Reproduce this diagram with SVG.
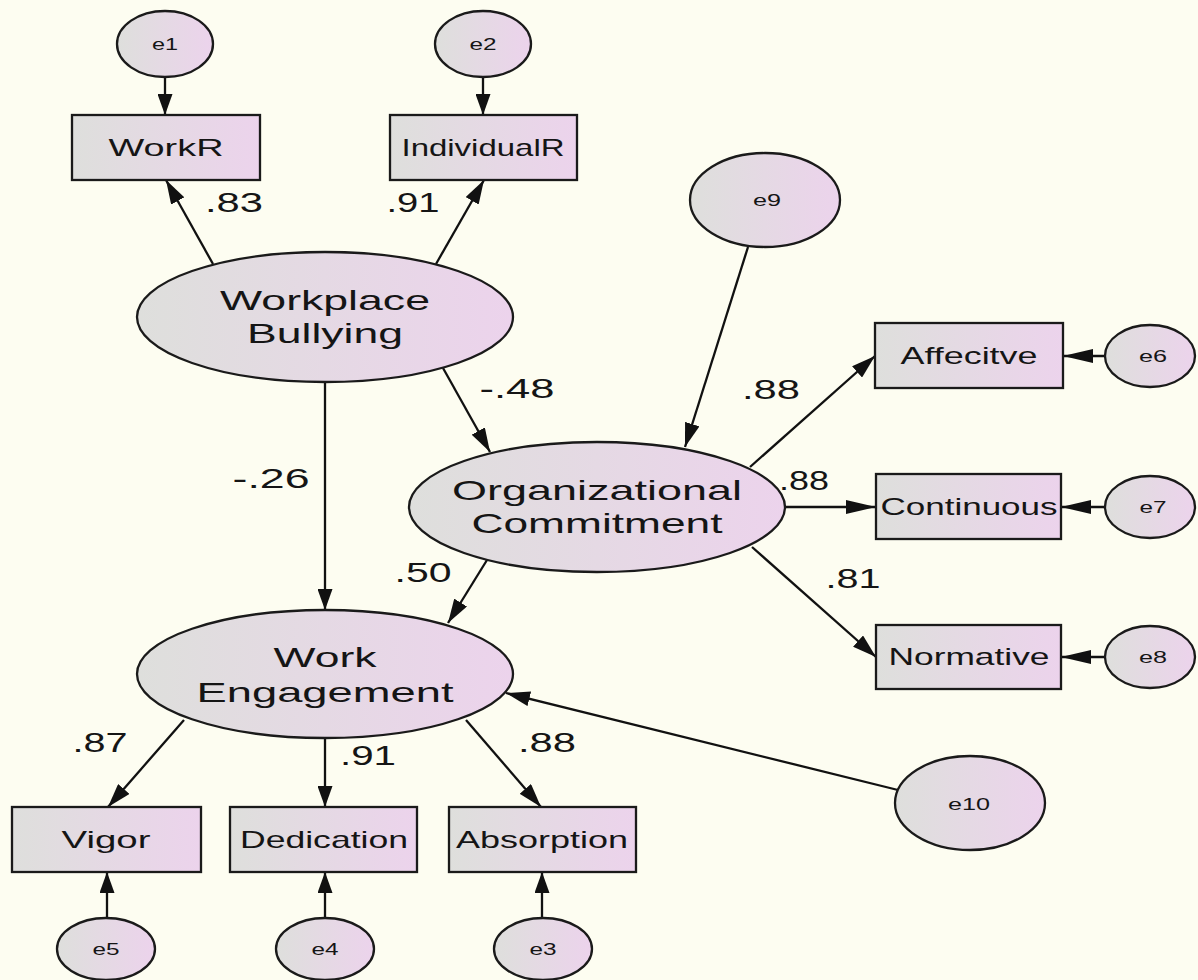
<svg xmlns="http://www.w3.org/2000/svg" width="1198" height="980" viewBox="0 0 1198 980">
<defs>
<linearGradient id="fillg" x1="0" y1="0" x2="1" y2="0">
<stop offset="0" stop-color="#dedfdc"/>
<stop offset="1" stop-color="#ecd3ec"/>
</linearGradient>
<marker id="av" viewBox="0 0 21 15" refX="21" refY="7.5" markerWidth="21" markerHeight="15" markerUnits="userSpaceOnUse" orient="auto">
<path d="M0,0 L21,7.5 L0,15 Z" fill="#111"/>
</marker>
<marker id="ad" viewBox="0 0 24 15" refX="24" refY="7.5" markerWidth="24" markerHeight="15" markerUnits="userSpaceOnUse" orient="auto">
<path d="M0,0 L24,7.5 L0,15 Z" fill="#111"/>
</marker>
<marker id="ah" viewBox="0 0 30 14" refX="30" refY="7" markerWidth="30" markerHeight="14" markerUnits="userSpaceOnUse" orient="auto">
<path d="M0,0 L30,7 L0,14 Z" fill="#111"/>
</marker>
</defs>
<style>
.nd{fill:url(#fillg);stroke:#1a1a1a;stroke-width:2.3}
.t{font-family:"Liberation Sans",Arial,sans-serif;fill:#151515;text-anchor:middle}
.big{font-size:28px}
.box{font-size:24px}
.coef{font-size:28px}
.err{font-size:16px}
.c line{stroke:#111;stroke-width:2.3;fill:none}
.v{marker-end:url(#av)}
.d{marker-end:url(#ad)}
.h{marker-end:url(#ah)}
</style>
<rect x="0" y="0" width="1198" height="980" fill="#fdfdf1"/>

<g id="connectors" class="c">
<line class="v" x1="165" y1="77" x2="165" y2="115"/>
<line class="v" x1="483" y1="77" x2="483" y2="115"/>
<line class="d" x1="213" y1="264" x2="166" y2="180"/>
<line class="d" x1="436" y1="264" x2="484" y2="180"/>
<line class="d" x1="443" y1="368" x2="490" y2="452"/>
<line class="v" x1="325" y1="382" x2="325" y2="610"/>
<line class="d" x1="748" y1="247" x2="685" y2="447"/>
<line class="d" x1="750" y1="467" x2="875" y2="356"/>
<line class="h" x1="785" y1="507" x2="876" y2="507"/>
<line class="d" x1="752" y1="547" x2="876" y2="657"/>
<line class="h" x1="1105" y1="356" x2="1063" y2="356"/>
<line class="h" x1="1105" y1="507" x2="1061" y2="507"/>
<line class="h" x1="1105" y1="657" x2="1061" y2="657"/>
<line class="d" x1="487" y1="560" x2="448" y2="623"/>
<line class="d" x1="898" y1="790" x2="506" y2="693"/>
<line class="d" x1="184" y1="720" x2="108" y2="807"/>
<line class="v" x1="325" y1="738" x2="325" y2="807"/>
<line class="d" x1="466" y1="720" x2="541" y2="807"/>
<line class="v" x1="107" y1="918" x2="107" y2="872"/>
<line class="v" x1="325" y1="918" x2="325" y2="872"/>
<line class="v" x1="542" y1="918" x2="542" y2="872"/>
</g>

<g id="labels">
<text class="t coef" x="234" y="212" textLength="58" lengthAdjust="spacingAndGlyphs">.83</text>
<text class="t coef" x="413" y="212" textLength="53" lengthAdjust="spacingAndGlyphs">.91</text>
<text class="t coef" x="517" y="398" textLength="75" lengthAdjust="spacingAndGlyphs">-.48</text>
<text class="t coef" x="271" y="488" textLength="77" lengthAdjust="spacingAndGlyphs">-.26</text>
<text class="t coef" x="771" y="399" textLength="58" lengthAdjust="spacingAndGlyphs">.88</text>
<text class="t coef" x="804" y="490" textLength="50" lengthAdjust="spacingAndGlyphs">.88</text>
<text class="t coef" x="853" y="588" textLength="55" lengthAdjust="spacingAndGlyphs">.81</text>
<text class="t coef" x="423" y="582" textLength="57" lengthAdjust="spacingAndGlyphs">.50</text>
<text class="t coef" x="100" y="752" textLength="55" lengthAdjust="spacingAndGlyphs">.87</text>
<text class="t coef" x="368" y="765" textLength="56" lengthAdjust="spacingAndGlyphs">.91</text>
<text class="t coef" x="547" y="752" textLength="58" lengthAdjust="spacingAndGlyphs">.88</text>
</g>

<g id="e1"><ellipse class="nd" cx="165" cy="44" rx="48" ry="33"/><text class="t err" x="165" y="50" textLength="26" lengthAdjust="spacingAndGlyphs">e1</text></g>
<g id="e2"><ellipse class="nd" cx="483" cy="44" rx="48" ry="33"/><text class="t err" x="483" y="50" textLength="27" lengthAdjust="spacingAndGlyphs">e2</text></g>
<g id="WorkR"><rect class="nd" x="72" y="115" width="188" height="65"/><text class="t box" x="166" y="156" textLength="115" lengthAdjust="spacingAndGlyphs">WorkR</text></g>
<g id="IndividualR"><rect class="nd" x="390" y="115" width="187" height="65"/><text class="t box" x="483" y="156" textLength="163" lengthAdjust="spacingAndGlyphs">IndividualR</text></g>
<g id="WorkplaceBullying"><ellipse class="nd" cx="325" cy="317" rx="188" ry="65"/><text class="t big" x="325" y="310" textLength="210" lengthAdjust="spacingAndGlyphs">Workplace</text><text class="t big" x="325" y="343" textLength="156" lengthAdjust="spacingAndGlyphs">Bullying</text></g>
<g id="e9"><ellipse class="nd" cx="765" cy="200" rx="75" ry="47"/><text class="t err" x="767" y="206" textLength="28" lengthAdjust="spacingAndGlyphs">e9</text></g>
<g id="OrganizationalCommitment"><ellipse class="nd" cx="597" cy="507" rx="188" ry="65"/><text class="t big" x="597" y="500" textLength="290" lengthAdjust="spacingAndGlyphs">Organizational</text><text class="t big" x="597" y="533" textLength="251" lengthAdjust="spacingAndGlyphs">Commitment</text></g>
<g id="Affecitve"><rect class="nd" x="875" y="323" width="188" height="65"/><text class="t box" x="969" y="364" textLength="137" lengthAdjust="spacingAndGlyphs">Affecitve</text></g>
<g id="Continuous"><rect class="nd" x="876" y="474" width="185" height="65"/><text class="t box" x="969" y="515" textLength="177" lengthAdjust="spacingAndGlyphs">Continuous</text></g>
<g id="Normative"><rect class="nd" x="876" y="625" width="185" height="64"/><text class="t box" x="969" y="665" textLength="161" lengthAdjust="spacingAndGlyphs">Normative</text></g>
<g id="e6"><ellipse class="nd" cx="1150" cy="356" rx="45" ry="31"/><text class="t err" x="1153" y="362" textLength="28" lengthAdjust="spacingAndGlyphs">e6</text></g>
<g id="e7"><ellipse class="nd" cx="1150" cy="507" rx="45" ry="31"/><text class="t err" x="1153" y="513" textLength="27" lengthAdjust="spacingAndGlyphs">e7</text></g>
<g id="e8"><ellipse class="nd" cx="1150" cy="657" rx="45" ry="31"/><text class="t err" x="1153" y="663" textLength="28" lengthAdjust="spacingAndGlyphs">e8</text></g>
<g id="WorkEngagement"><ellipse class="nd" cx="325" cy="674" rx="188" ry="64"/><text class="t big" x="325" y="667" textLength="103" lengthAdjust="spacingAndGlyphs">Work</text><text class="t big" x="325" y="702" textLength="257" lengthAdjust="spacingAndGlyphs">Engagement</text></g>
<g id="e10"><ellipse class="nd" cx="970" cy="803" rx="75" ry="47"/><text class="t err" x="969" y="810" textLength="42" lengthAdjust="spacingAndGlyphs">e10</text></g>
<g id="Vigor"><rect class="nd" x="12" y="807" width="189" height="65"/><text class="t box" x="106" y="848" textLength="89" lengthAdjust="spacingAndGlyphs">Vigor</text></g>
<g id="Dedication"><rect class="nd" x="230" y="807" width="187" height="65"/><text class="t box" x="324" y="848" textLength="168" lengthAdjust="spacingAndGlyphs">Dedication</text></g>
<g id="Absorption"><rect class="nd" x="449" y="807" width="187" height="65"/><text class="t box" x="542" y="848" textLength="172" lengthAdjust="spacingAndGlyphs">Absorption</text></g>
<g id="e5"><ellipse class="nd" cx="106" cy="949" rx="49" ry="31"/><text class="t err" x="106" y="955" textLength="27" lengthAdjust="spacingAndGlyphs">e5</text></g>
<g id="e4"><ellipse class="nd" cx="325" cy="949" rx="49" ry="31"/><text class="t err" x="325" y="955" textLength="27" lengthAdjust="spacingAndGlyphs">e4</text></g>
<g id="e3"><ellipse class="nd" cx="543" cy="949" rx="49" ry="31"/><text class="t err" x="543" y="955" textLength="27" lengthAdjust="spacingAndGlyphs">e3</text></g>
</svg>
